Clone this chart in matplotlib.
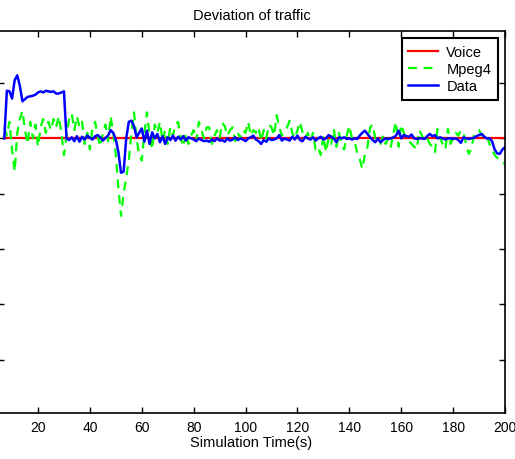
import matplotlib
matplotlib.use("Agg")
import matplotlib.pyplot as plt

plt.rcParams['font.family'] = ['Liberation Sans', 'DejaVu Sans']

# Simulation time (s), 1 s sampling
time = list(range(7, 201))

voice_time = [7, 200]
voice = [0.0, 0.0]

mpeg4 = [
    0.2, 0.05, 0.3, -0.2, -0.6, 0.1, 0.35, 0.5, 0.15, -0.1,          # 7-16
    0.3, 0.0, 0.25, -0.15, 0.2, 0.35, 0.1, 0.3, 0.15, 0.35,          # 17-26
    0.2, 0.4, 0.1, -0.3, 0.05, 0.35, 0.45, 0.15, 0.4, 0.2,           # 27-36
    0.3, -0.1, 0.1, -0.2, 0.2, 0.3, 0.05, -0.15, 0.1, 0.25,          # 37-46
    -0.05, 0.4, 0.1, -0.3, -0.9, -1.4, -1.0, -0.7, -0.4, 0.1,        # 47-56
    0.47, 0.0, -0.3, -0.4, 0.1, 0.47, 0.05, -0.2, 0.25, 0.1,         # 57-66
    0.3, -0.05, 0.15, -0.1, 0.2, 0.05, 0.25, 0.3, 0.0, -0.15,        # 67-76
    0.1, -0.1, 0.05, 0.15, -0.05, 0.3, 0.15, 0.0, 0.2, 0.2,          # 77-86
    -0.1, 0.05, 0.15, 0.0, 0.28, 0.22, 0.05, 0.15, 0.2, -0.05,       # 87-96
    0.1, 0.0, 0.15, 0.1, 0.3, 0.05, 0.15, 0.1, 0.2, -0.05,           # 97-106
    0.15, 0.0, 0.25, 0.2, 0.05, 0.42, 0.2, 0.05, 0.15, 0.2,          # 107-116
    0.32, 0.1, 0.0, 0.15, 0.3, 0.1, 0.0, 0.1, -0.05, 0.1,            # 117-126
    -0.2, -0.15, -0.3, 0.05, -0.25, 0.0, -0.1, 0.17, -0.15, 0.1,     # 127-136
    -0.1, -0.2, 0.05, 0.23, 0.0, -0.05, -0.25, -0.37, -0.55, -0.3,   # 137-146
    -0.15, 0.2, 0.25, 0.0, -0.05, -0.1, 0.05, -0.1, 0.0, -0.15,      # 147-156
    0.1, 0.3, -0.15, 0.25, 0.1, 0.0, -0.05, -0.1, -0.15, -0.2,       # 157-166
    0.15, 0.05, -0.05, 0.0, -0.1, -0.15, -0.25, 0.17, 0.0, -0.1,     # 167-176
    -0.2, 0.17, -0.1, 0.0, 0.1, 0.05, 0.15, 0.1, -0.1, -0.28,        # 177-186
    -0.2, 0.05, 0.1, 0.15, 0.05, 0.1, 0.05, -0.1, -0.2, -0.3,        # 187-196
    -0.35, -0.4, -0.45, -0.45,                                      # 197-200
]

data = [
    0.0, 0.86, 0.85, 0.72, 1.05, 1.14, 0.95, 0.67, 0.71, 0.75,       # 7-16
    0.76, 0.77, 0.79, 0.83, 0.85, 0.83, 0.86, 0.85, 0.84, 0.85,      # 17-26
    0.81, 0.81, 0.83, 0.85, 0.0, -0.03, 0.02, -0.05, 0.04, -0.06,    # 27-36
    0.03, -0.02, 0.05, 0.01, -0.02, 0.04, 0.06, 0.02, -0.04, 0.01,   # 37-46
    0.05, 0.15, 0.1, -0.02, -0.25, -0.62, -0.6, 0.0, 0.3, 0.32,      # 47-56
    0.22, 0.02, 0.1, 0.18, -0.06, 0.14, -0.1, 0.11, 0.0, 0.08,       # 57-66
    -0.07, 0.04, -0.1, 0.02, -0.03, 0.05, -0.04, 0.03, -0.02, 0.04,  # 67-76
    -0.04, 0.02, 0.0, -0.02, -0.05, 0.0, -0.03, -0.05, -0.04, -0.06, # 77-86
    -0.02, -0.05, 0.0, -0.04, -0.03, -0.06, 0.0, -0.04, -0.02, 0.02, # 87-96
    -0.03, 0.0, -0.02, -0.05, 0.0, 0.02, 0.05, -0.02, -0.05, -0.1,   # 97-106
    -0.03, -0.06, 0.0, -0.03, -0.02, 0.0, 0.06, -0.04, 0.0, -0.02,   # 107-116
    -0.04, 0.03, -0.02, 0.05, -0.03, -0.05, 0.03, 0.0, -0.02, 0.02,  # 117-126
    -0.04, 0.0, 0.03, -0.02, 0.0, 0.06, 0.03, 0.0, -0.07, 0.02,      # 127-136
    0.0, 0.02, -0.01, 0.0, -0.02, 0.0, -0.01, 0.05, 0.1, 0.14,       # 137-146
    0.08, 0.02, -0.03, -0.07, 0.0, -0.07, -0.03, 0.0, -0.01, 0.0,    # 147-156
    0.02, 0.05, 0.14, 0.0, 0.06, 0.04, 0.03, 0.07, 0.0, -0.01,       # 157-166
    0.0, 0.0, -0.01, 0.04, 0.08, 0.04, 0.06, 0.0, 0.02, 0.0,         # 167-176
    -0.02, 0.0, 0.0, -0.01, 0.0, -0.03, -0.08, 0.02, 0.0, -0.01,     # 177-186
    0.0, 0.01, 0.04, 0.06, 0.08, 0.03, 0.0, 0.0, -0.05, -0.2,        # 187-196
    -0.27, -0.28, -0.2, -0.16,                                      # 197-200
]

xticks = [20, 40, 60, 80, 100, 120, 140, 160, 180, 200]
yticks = [-4, -3, -2, -1, 0, 1]

W, H = 515, 460
fig = plt.figure(figsize=(W / 100, H / 100), dpi=100)
ax = fig.add_axes([-2 / W, 46 / H, 507 / W, 382 / H])

ax.plot(voice_time, voice, color='#ff0000', lw=1.6, label='Voice')
ax.plot(time, mpeg4, color='#00ff00', lw=1.6, ls=(0, (4, 3)), label='Mpeg4')
ax.plot(time, data, color='#0000ff', lw=1.8, label='Data')

ax.set_xlim(4.58, 200)
ax.set_ylim(-4.96, 1.94)
ax.set_xticks(xticks)
ax.set_yticks(yticks)
ax.tick_params(direction='in', length=4, width=1, top=True, right=True,
               labelleft=False, labelsize=10, pad=5)
for s in ax.spines.values():
    s.set_linewidth(1.2)

ax.set_title('Deviation of traffic', fontsize=10.5, pad=9)
ax.set_xlabel('Simulation Time(s)', fontsize=10.5, labelpad=1)

leg = ax.legend(loc='upper right', fontsize=10.5, fancybox=False,
                framealpha=1, edgecolor='black', borderaxespad=0.5,
                handlelength=2.0, handletextpad=0.6, labelspacing=0.22,
                borderpad=0.45)
leg.get_frame().set_linewidth(1.5)

fig.savefig('out.png', dpi=100)
